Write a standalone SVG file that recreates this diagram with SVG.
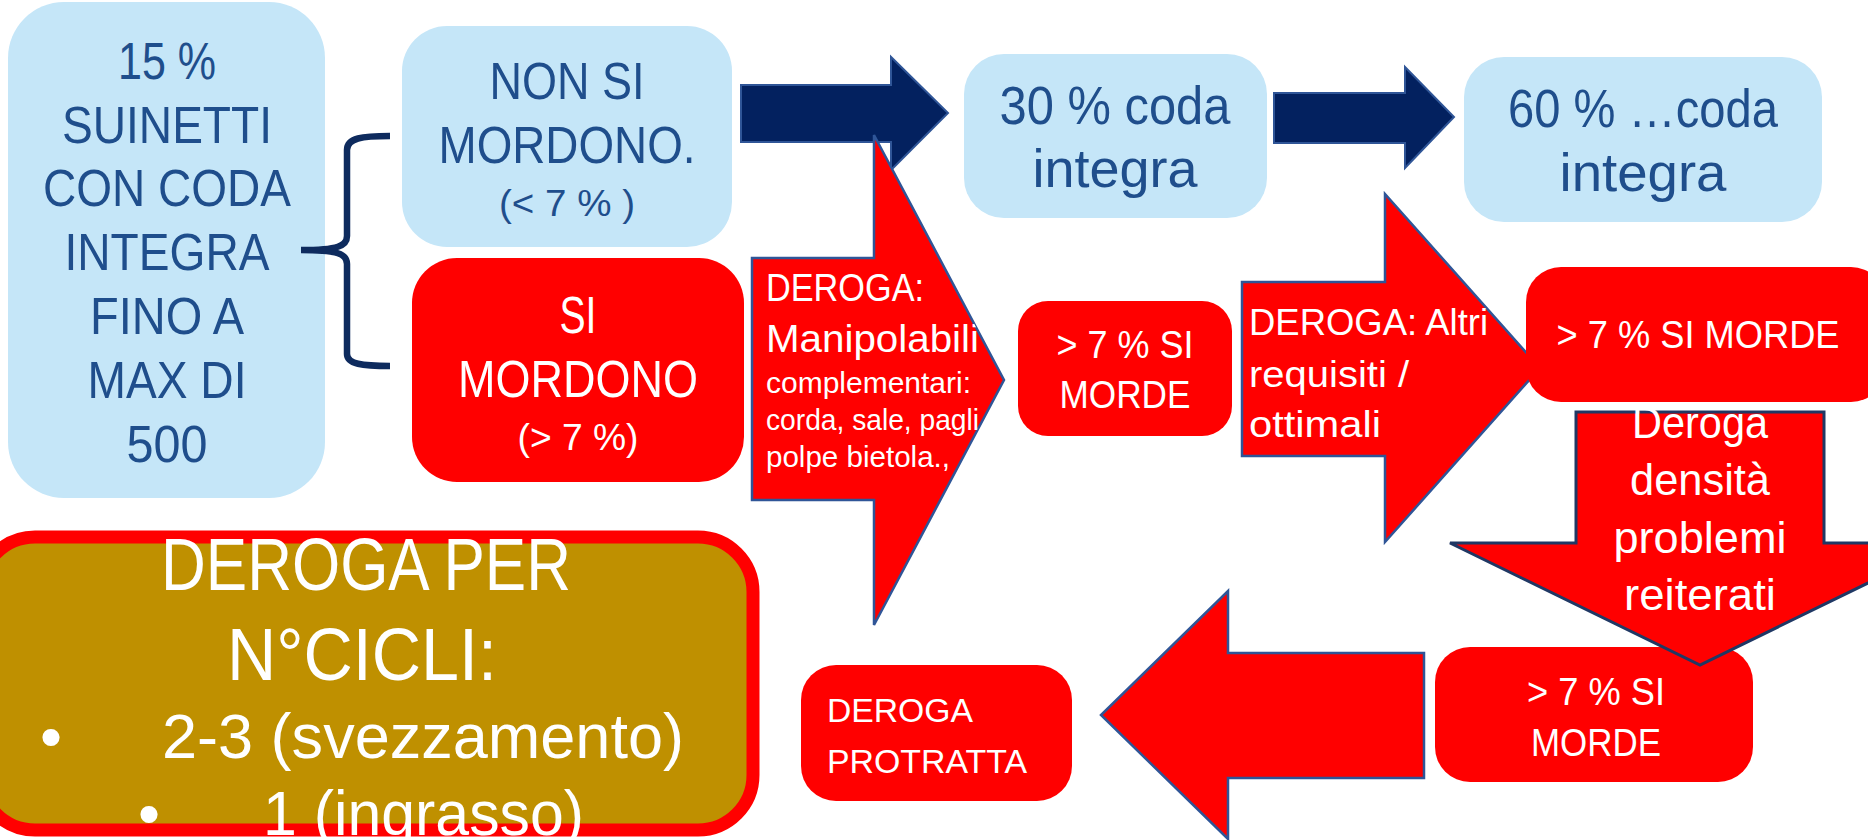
<svg xmlns="http://www.w3.org/2000/svg" width="1868" height="840" viewBox="0 0 1868 840">
<style>
.blue{fill:#C5E6F8}
.red{fill:#FF0000}
.navy{fill:#03215F;stroke:#2F5597;stroke-width:2}
.ol{stroke:#2F5597;stroke-width:2.5}
.tb{fill:#1F4E8C;font-family:"Liberation Sans",Arial,sans-serif;text-anchor:middle}
.tw{fill:#FFFFFF;font-family:"Liberation Sans",Arial,sans-serif}
.m{text-anchor:middle}
</style>
<defs>
<clipPath id="clipA1"><polygon points="752,258 874,258 874,135 1004,380 874,625 874,500 752,500"/></clipPath>
<clipPath id="clipA2"><polygon points="1242,282 1385,282 1385,194 1540,368 1385,542 1385,456 1242,456"/></clipPath>
</defs>
<rect width="1868" height="840" fill="#FFFFFF"/>

<g id="node-start">
<rect class="blue" x="8" y="2" width="317" height="496" rx="56"/>
<g class="tb" font-size="52">
<text x="167" y="79" textLength="98" lengthAdjust="spacingAndGlyphs">15 %</text>
<text x="167" y="143" textLength="210" lengthAdjust="spacingAndGlyphs">SUINETTI</text>
<text x="167" y="206" textLength="248" lengthAdjust="spacingAndGlyphs">CON CODA</text>
<text x="167" y="270" textLength="205" lengthAdjust="spacingAndGlyphs">INTEGRA</text>
<text x="167" y="334" textLength="154" lengthAdjust="spacingAndGlyphs">FINO A</text>
<text x="167" y="398" textLength="159" lengthAdjust="spacingAndGlyphs">MAX DI</text>
<text x="167" y="462" textLength="81" lengthAdjust="spacingAndGlyphs">500</text>
</g>
</g>

<g id="connectors">
<path id="brace" d="M390,136 C362,136 347,138 347,150 L347,236 C347,246 338,250 301,250 C338,250 347,254 347,264 L347,354 C347,364 362,366 390,366" fill="none" stroke="#0E2B5E" stroke-width="6.5"/>
<polygon id="arrow-navy-1" class="navy" points="741,85 891,85 891,57 948,113 891,170 891,142 741,142"/>
<polygon id="arrow-navy-2" class="navy" points="1274,93 1405,93 1405,67 1454,117 1405,168 1405,143 1274,143"/>
<polygon id="arrow-left" class="red ol" points="1424,653 1228,653 1228,591 1101,715 1228,839 1228,778 1424,778"/>
</g>

<g id="node-non-si-mordono">
<rect class="blue" x="402" y="26" width="330" height="221" rx="45"/>
<g class="tb" font-size="52">
<text x="567" y="99" textLength="155" lengthAdjust="spacingAndGlyphs">NON SI</text>
<text x="567" y="163" textLength="257" lengthAdjust="spacingAndGlyphs">MORDONO.</text>
<text x="567" y="216" font-size="36" textLength="136" lengthAdjust="spacingAndGlyphs">(&lt; 7 % )</text>
</g>
</g>

<g id="node-si-mordono">
<rect class="red" x="412" y="258" width="332" height="224" rx="45"/>
<g class="tw m" font-size="52">
<text x="578" y="333" textLength="37" lengthAdjust="spacingAndGlyphs">SI</text>
<text x="578" y="397" textLength="240" lengthAdjust="spacingAndGlyphs">MORDONO</text>
<text x="578" y="450" font-size="36" textLength="121" lengthAdjust="spacingAndGlyphs">(&gt; 7 %)</text>
</g>
</g>

<g id="node-30">
<rect class="blue" x="964" y="54" width="303" height="164" rx="40"/>
<g class="tb" font-size="53">
<text x="1115" y="124" textLength="231" lengthAdjust="spacingAndGlyphs">30 % coda</text>
<text x="1115" y="187" textLength="165" lengthAdjust="spacingAndGlyphs">integra</text>
</g>
</g>

<g id="node-60">
<rect class="blue" x="1464" y="57" width="358" height="165" rx="40"/>
<g class="tb" font-size="53">
<text x="1643" y="127" textLength="270" lengthAdjust="spacingAndGlyphs">60 % …coda</text>
<text x="1643" y="191" textLength="167" lengthAdjust="spacingAndGlyphs">integra</text>
</g>
</g>

<g id="node-deroga-manipolabili">
<polygon class="red ol" points="752,258 874,258 874,135 1004,380 874,625 874,500 752,500"/>
<g class="tw" clip-path="url(#clipA1)">
<text x="766" y="301" font-size="38" textLength="158" lengthAdjust="spacingAndGlyphs">DEROGA:</text>
<text x="766" y="352" font-size="38" textLength="213" lengthAdjust="spacingAndGlyphs">Manipolabili</text>
<text x="766" y="393" font-size="30" textLength="205" lengthAdjust="spacingAndGlyphs">complementari:</text>
<text x="766" y="430" font-size="30" textLength="213" lengthAdjust="spacingAndGlyphs">corda, sale, pagli</text>
<text x="766" y="467" font-size="30" textLength="184" lengthAdjust="spacingAndGlyphs">polpe bietola.,</text>
</g>
</g>

<g id="node-morde-1">
<rect class="red" x="1018" y="301" width="214" height="135" rx="30"/>
<g class="tw m" font-size="39">
<text x="1125" y="358" textLength="137" lengthAdjust="spacingAndGlyphs">&gt; 7 % SI</text>
<text x="1125" y="408" textLength="131" lengthAdjust="spacingAndGlyphs">MORDE</text>
</g>
</g>

<g id="node-deroga-altri">
<polygon class="red ol" points="1242,282 1385,282 1385,194 1540,368 1385,542 1385,456 1242,456"/>
<g class="tw" font-size="36" clip-path="url(#clipA2)">
<text x="1249" y="335" textLength="239" lengthAdjust="spacingAndGlyphs">DEROGA: Altri</text>
<text x="1249" y="387" textLength="160" lengthAdjust="spacingAndGlyphs">requisiti /</text>
<text x="1249" y="437" textLength="132" lengthAdjust="spacingAndGlyphs">ottimali</text>
</g>
</g>

<g id="node-morde-2">
<rect class="red" x="1526" y="267" width="360" height="135" rx="35"/>
<text class="tw m" x="1698" y="348" font-size="39" textLength="283" lengthAdjust="spacingAndGlyphs">&gt; 7 % SI MORDE</text>
</g>

<g id="node-morde-3">
<rect class="red" x="1435" y="647" width="318" height="135" rx="35"/>
<g class="tw m" font-size="39">
<text x="1596" y="705" textLength="138" lengthAdjust="spacingAndGlyphs">&gt; 7 % SI</text>
<text x="1596" y="756" textLength="130" lengthAdjust="spacingAndGlyphs">MORDE</text>
</g>
</g>

<g id="node-deroga-densita">
<polygon class="red" stroke="#203864" stroke-width="3" points="1576,412 1824,412 1824,543 1950,543 1700,665 1450,543 1576,543"/>
<g class="tw m" font-size="44">
<text x="1700" y="438" textLength="136" lengthAdjust="spacingAndGlyphs">Deroga</text>
<text x="1700" y="495" textLength="140" lengthAdjust="spacingAndGlyphs">densità</text>
<text x="1700" y="553" textLength="173" lengthAdjust="spacingAndGlyphs">problemi</text>
<text x="1700" y="610" textLength="152" lengthAdjust="spacingAndGlyphs">reiterati</text>
</g>
</g>

<g id="node-deroga-protratta">
<rect class="red" x="801" y="665" width="271" height="136" rx="35"/>
<g class="tw" font-size="34">
<text x="827" y="722" textLength="146" lengthAdjust="spacingAndGlyphs">DEROGA</text>
<text x="827" y="773" textLength="200" lengthAdjust="spacingAndGlyphs">PROTRATTA</text>
</g>
</g>

<g id="node-deroga-cicli">
<rect x="-20" y="537" width="773" height="293" rx="55" fill="#BF9000" stroke="#FF0000" stroke-width="13"/>
<g class="tw">
<text class="m" x="366" y="590" font-size="74" textLength="410" lengthAdjust="spacingAndGlyphs">DEROGA PER</text>
<text class="m" x="362" y="680" font-size="74" textLength="270" lengthAdjust="spacingAndGlyphs">N°CICLI:</text>
<text class="m" x="51" y="758" font-size="63">•</text>
<text x="162" y="758" font-size="63" textLength="522" lengthAdjust="spacingAndGlyphs">2-3 (svezzamento)</text>
<text class="m" x="149" y="835" font-size="63">•</text>
<text x="263" y="835" font-size="63" textLength="321" lengthAdjust="spacingAndGlyphs">1 (ingrasso)</text>
</g>
</g>
</svg>
